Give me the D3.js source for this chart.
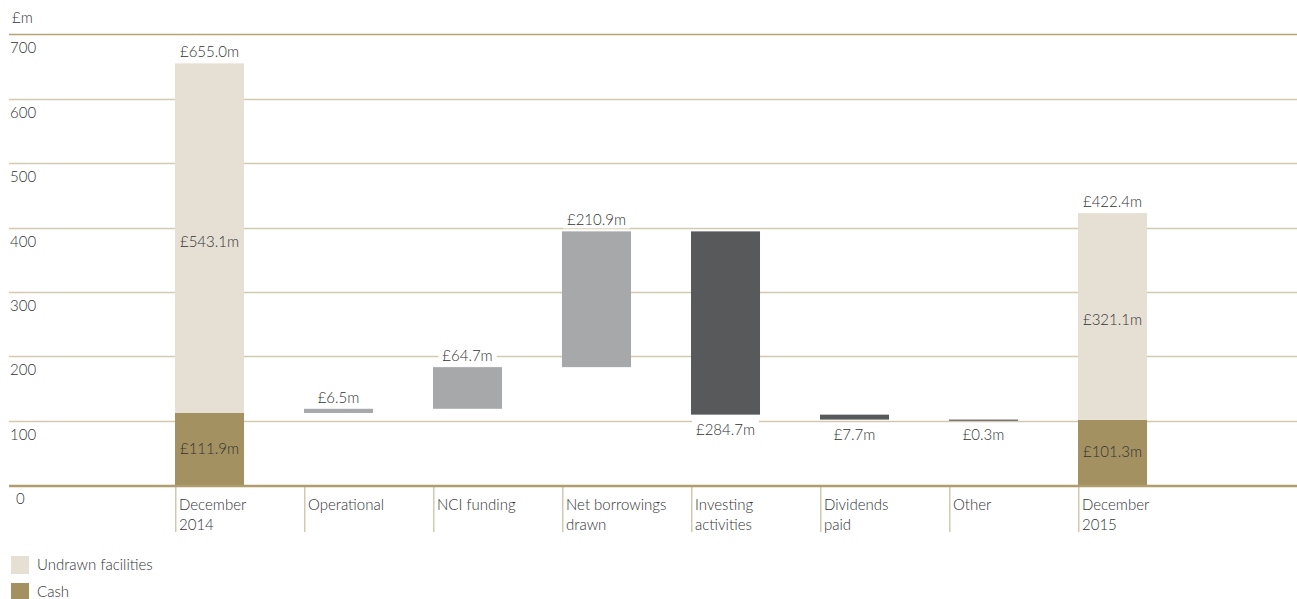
<!DOCTYPE html>
<html>
<head>
<meta charset="utf-8">
<script src="https://cdn.jsdelivr.net/npm/d3@7"></script>
<style>
  html, body { margin: 0; padding: 0; background: #fff; }
  svg { display: block; }
  text { font-family: "Lato", "Open Sans", sans-serif; font-weight: 300; fill: #333; }
</style>
</head>
<body>
<svg id="chart" width="1297" height="599"></svg>
<script>
// ---- data ----
const categories = ["December 2014", "Operational", "NCI funding", "Net borrowings drawn",
                    "Investing activities", "Dividends paid", "Other", "December 2015"];
const categoryLines = [["December", "2014"], ["Operational"], ["NCI funding"], ["Net borrowings", "drawn"],
                       ["Investing", "activities"], ["Dividends", "paid"], ["Other"], ["December", "2015"]];
const cashValues = [111.9, null, null, null, null, null, null, 101.3];
const undrawnValues = [543.1, null, null, null, null, null, null, 321.1];
const changeValues = [null, 6.5, 64.7, 210.9, -284.7, -7.7, -0.3, null];
const yTicks = [0, 100, 200, 300, 400, 500, 600, 700];
const legendLabels = ["Undrawn facilities", "Cash"];

// ---- colours ----
const cUndrawn = "#e6e0d4", cCash = "#a39161", cUp = "#a7a8aa", cDown = "#58595b";
const cGrid = "#d3c9b1", cGridTop = "#b9a275", cBase = "#b09c6c";

const svg = d3.select("#chart");
const y = d3.scaleLinear().domain([0, 700]).range([485, 34.4]);
const x = d3.scaleBand().domain(categories).range([175, 1207]).paddingInner(0).paddingOuter(0);
const barW = x.bandwidth() * 0.535;
const fmt = v => "£" + Math.abs(v).toFixed(1) + "m";

// gridlines
svg.append("g").selectAll("line").data(yTicks.filter(d => d > 0)).join("line")
  .attr("x1", 9).attr("x2", 1297)
  .attr("y1", d => Math.round(y(d)) + 0.5).attr("y2", d => Math.round(y(d)) + 0.5)
  .attr("stroke", d => d === 700 ? cGridTop : cGrid).attr("stroke-width", 1.3);

// tick labels
svg.append("g").selectAll("text").data(yTicks).join("text")
  .attr("x", d => d === 0 ? 16 : 10).attr("y", d => y(d) + 19)
  .attr("font-size", 15).text(d => d);
svg.append("text").attr("x", 12).attr("y", 23).attr("font-size", 15).text("£m");

// separators
svg.append("g").selectAll("line").data(categories).join("line")
  .attr("x1", d => x(d) + 0.75).attr("x2", d => x(d) + 0.75)
  .attr("y1", 486).attr("y2", 532)
  .attr("stroke", cGrid).attr("stroke-width", 1.5);

// category labels
const cl = svg.append("g").selectAll("text").data(categories).join("text")
  .attr("x", d => x(d) + 4).attr("y", 510).attr("font-size", 15);
cl.each(function (d, i) {
  const t = d3.select(this);
  categoryLines[i].forEach((s, j) => {
    t.append("tspan").attr("x", x(d) + 4).attr("dy", j === 0 ? 0 : 20).text(s);
  });
});

// compute waterfall
const bars = [];
let running = 0;
categories.forEach((c, i) => {
  if (cashValues[i] != null) {
    bars.push({ c, lo: 0, hi: cashValues[i], color: cCash, label: fmt(cashValues[i]), pos: "mid", off: 5 });
    bars.push({ c, lo: cashValues[i], hi: cashValues[i] + undrawnValues[i], color: cUndrawn,
                label: fmt(undrawnValues[i]), pos: "mid", off: 9 });
    bars.push({ c, lo: cashValues[i] + undrawnValues[i], hi: cashValues[i] + undrawnValues[i], color: "none",
                label: fmt(cashValues[i] + undrawnValues[i]), pos: "top" });
    running = cashValues[i];
  } else {
    const v = changeValues[i];
    const lo = Math.min(running, running + v), hi = Math.max(running, running + v);
    bars.push({ c, lo, hi, color: v >= 0 ? cUp : cDown, label: fmt(v), pos: v >= 0 ? "top" : "bottom" });
    running += v;
  }
});

const drawn = bars.filter(b => b.color !== "none");
svg.append("g").selectAll("rect").data(drawn).join("rect")
  .attr("x", d => x(d.c)).attr("width", barW)
  .attr("y", d => y(d.hi)).attr("height", d => Math.max(1.2, y(d.lo) - y(d.hi)))
  .attr("fill", d => d.color);

// baseline
svg.append("line").attr("x1", 9).attr("x2", 1297).attr("y1", 486).attr("y2", 486)
  .attr("stroke", cBase).attr("stroke-width", 2.5);

// value labels
const lg = svg.append("g");
bars.forEach(b => {
  const cx = x(b.c) + barW / 2;
  let ty;
  if (b.pos === "mid") ty = (y(b.lo) + y(b.hi)) / 2 + b.off;
  else if (b.pos === "top") ty = y(b.hi) - 6;
  else ty = y(b.lo) + 20;
  const t = lg.append("text").attr("x", cx).attr("y", ty).attr("text-anchor", "middle")
    .attr("font-size", 15).text(b.label);
  if (b.pos !== "mid") {
    const bb = t.node().getBBox();
    lg.insert("rect", "text").attr("x", bb.x - 4).attr("y", bb.y).attr("width", bb.width + 8)
      .attr("height", bb.height).attr("fill", "#fff");
  }
});

// legend
const leg = svg.append("g").selectAll("g").data(legendLabels).join("g")
  .attr("transform", (d, i) => `translate(11, ${556 + i * 27})`);
leg.append("rect").attr("width", 18).attr("height", 18).attr("fill", (d, i) => i === 0 ? cUndrawn : cCash);
leg.append("text").attr("x", 26).attr("y", 14).attr("font-size", 15).text(d => d);
</script>
</body>
</html>
